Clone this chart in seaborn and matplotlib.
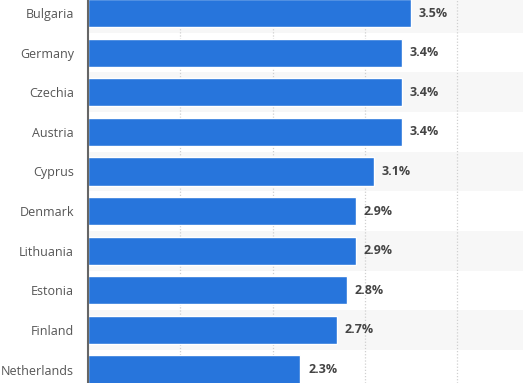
import seaborn as sns
import matplotlib.pyplot as plt
import pandas as pd

countries = ['Bulgaria', 'Germany', 'Czechia', 'Austria', 'Cyprus',
             'Denmark', 'Lithuania', 'Estonia', 'Finland', 'Netherlands']
values = [3.5, 3.4, 3.4, 3.4, 3.1, 2.9, 2.9, 2.8, 2.7, 2.3]
value_labels = ['3.5%', '3.4%', '3.4%', '3.4%', '3.1%',
                '2.9%', '2.9%', '2.8%', '2.7%', '2.3%']
grid_ticks = [1, 2, 3, 4]

df = pd.DataFrame({'country': countries, 'value': values})

sns.set_style('white')
plt.rcParams['font.family'] = ['Open Sans', 'DejaVu Sans']

fig = plt.figure(figsize=(5.23, 3.83), dpi=100)
ax = fig.add_axes([88 / 523, 0, 1 - 88 / 523, 1])

# alternating row stripes
for i in range(len(countries)):
    if i % 2 == 0:
        ax.axhspan(i - 0.5, i + 0.5, color='#f7f7f7', zorder=0, lw=0)

sns.barplot(data=df, x='value', y='country', orient='h', color='#2775dc',
            saturation=1, width=0.71, ax=ax, zorder=3)

for i, (v, lab) in enumerate(zip(values, value_labels)):
    ax.annotate(lab, (v, i), xytext=(5.5, 0), textcoords='offset points',
                va='center', ha='left', fontsize=9, fontweight='bold',
                color='#444444')

for t in grid_ticks:
    ax.axvline(t, color='#d0d0d0', lw=0.9, ls=(0, (1, 1.5)), zorder=1)

ax.set_xlim(0, 4.71)
ax.set_ylim(9.34, -0.33)
ax.set_xticks([])
ax.set_xlabel('')
ax.set_ylabel('')
ax.tick_params(axis='y', length=0, pad=10, labelsize=9, labelcolor='#555555')

for s in ['top', 'right', 'bottom']:
    ax.spines[s].set_visible(False)
ax.spines['left'].set_color('#666666')
ax.spines['left'].set_linewidth(1.5)
ax.spines['left'].set_zorder(5)

fig.savefig('out.png', dpi=100)
